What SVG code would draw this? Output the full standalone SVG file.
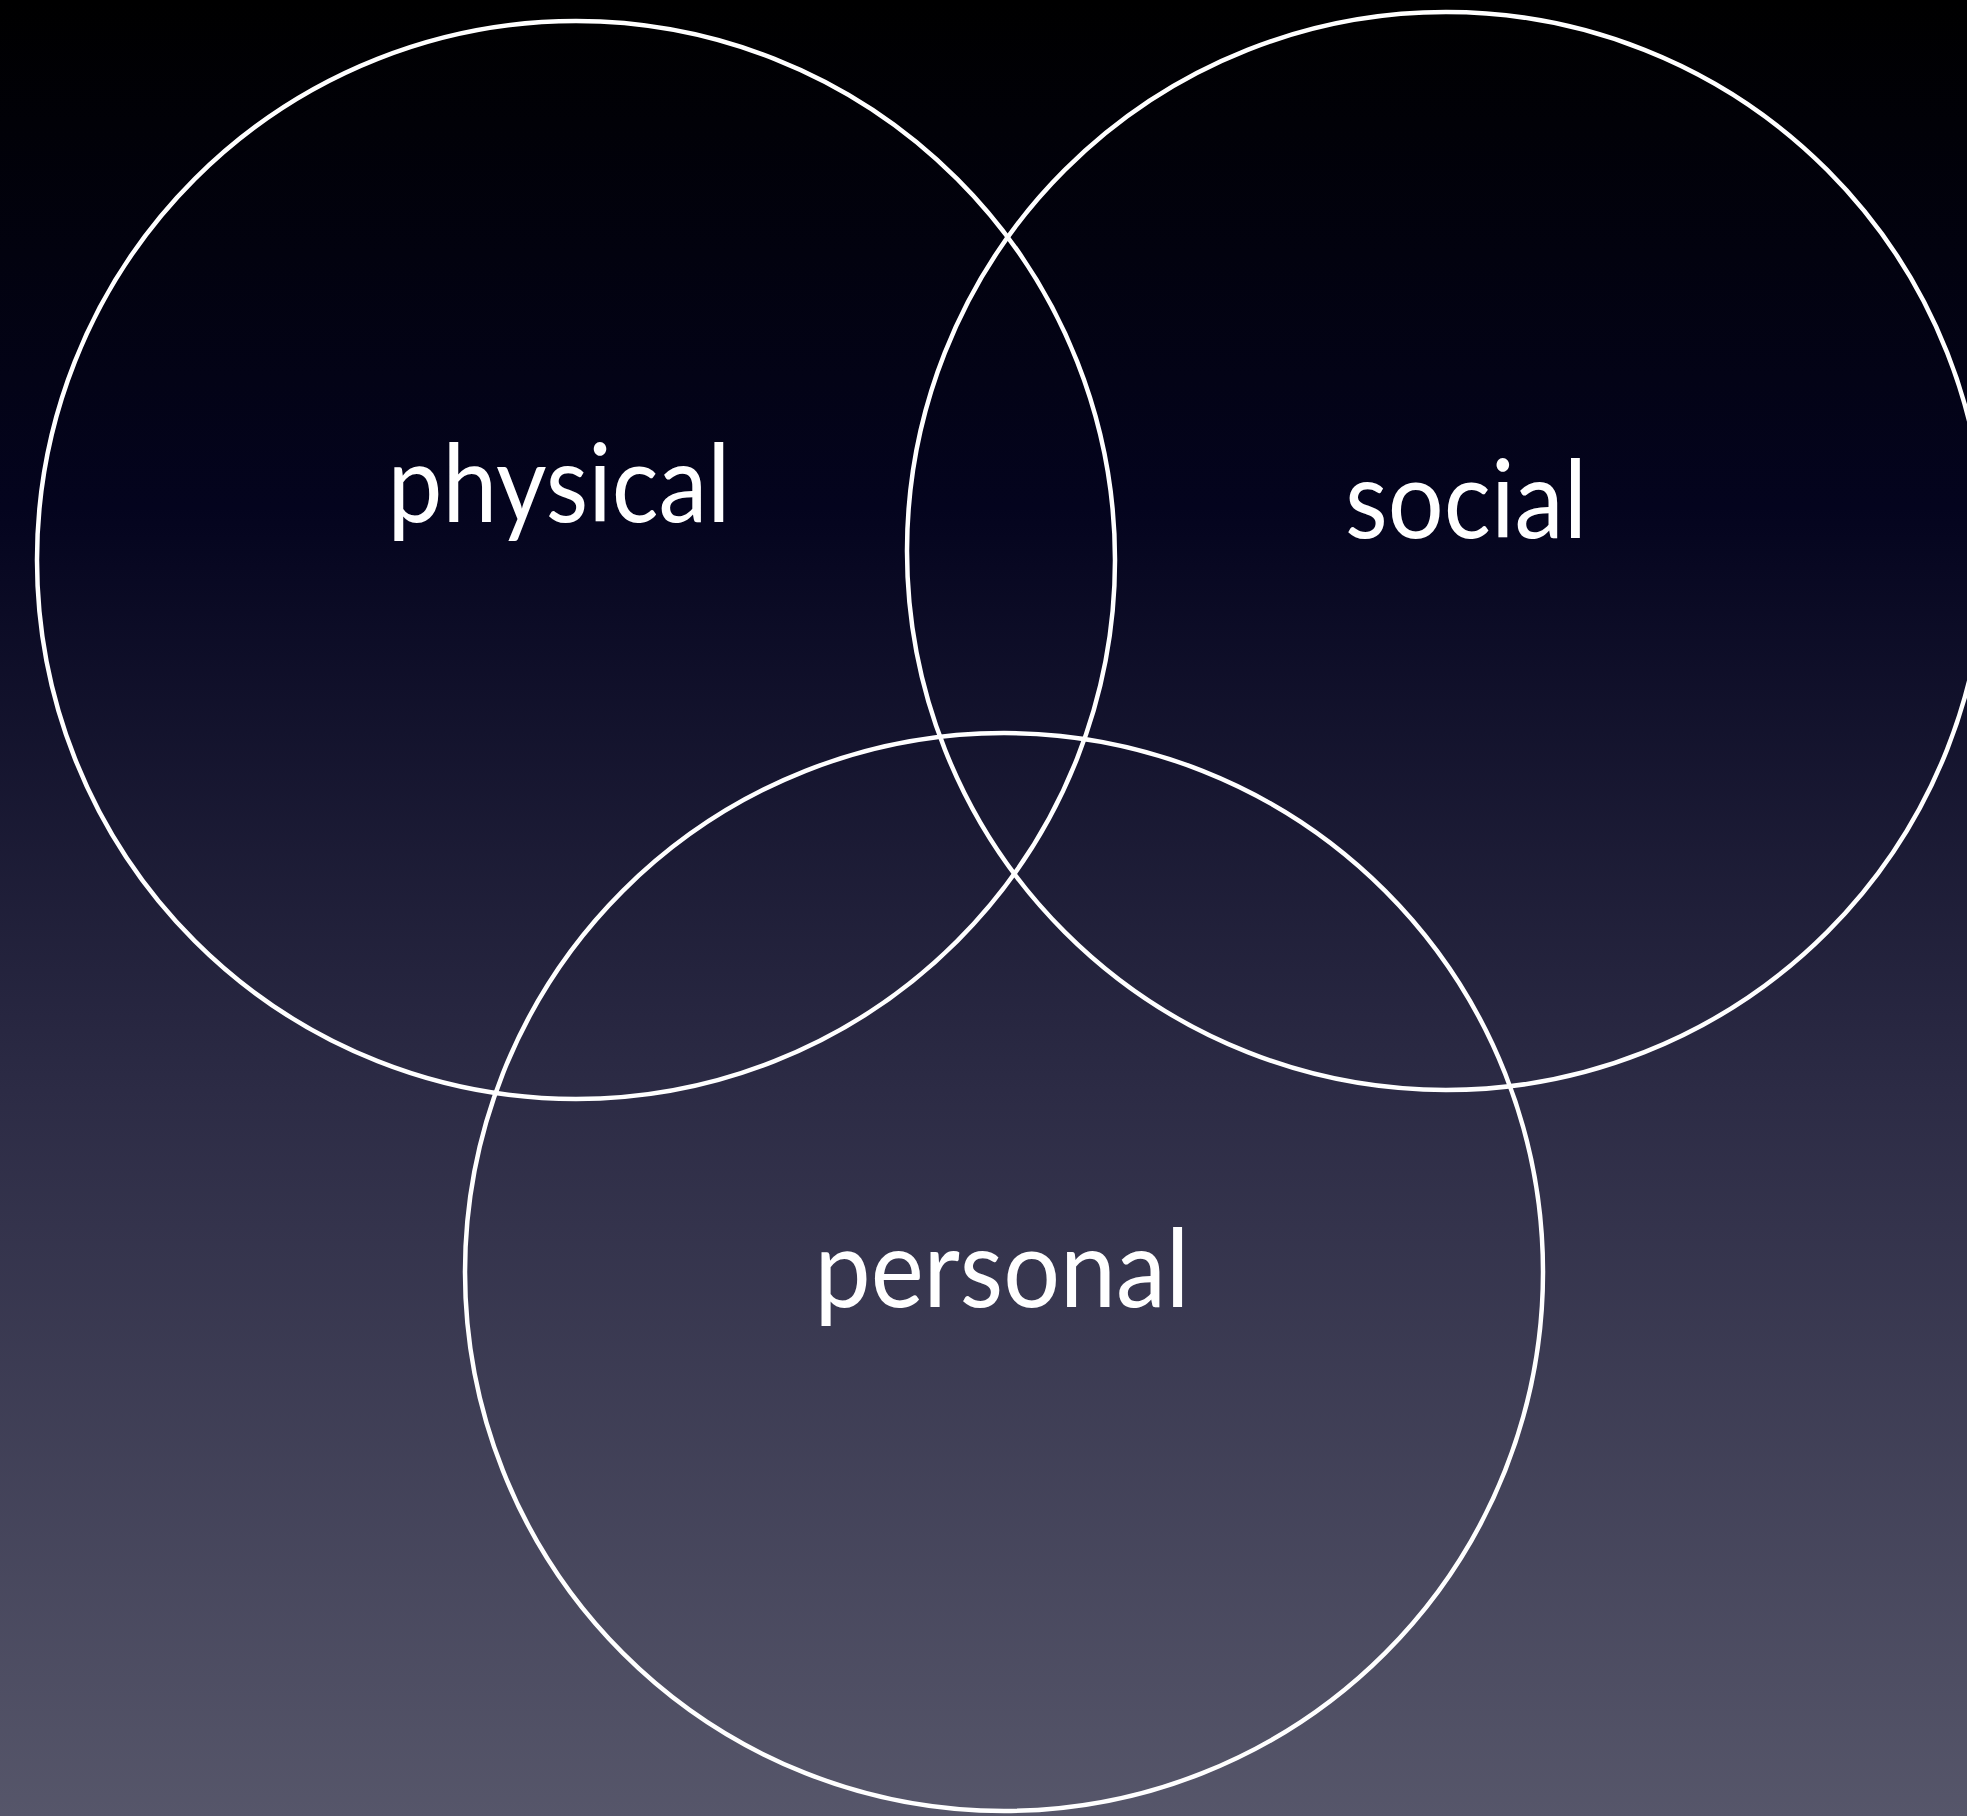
<svg xmlns="http://www.w3.org/2000/svg" width="1967" height="1816" viewBox="0 0 1967 1816">
  <defs>
    <linearGradient id="bg" x1="0" y1="0" x2="0" y2="1">
      <stop offset="0" stop-color="#000000"/>
      <stop offset="0.28" stop-color="#04041e"/>
      <stop offset="0.6" stop-color="#2c2b45"/>
      <stop offset="1" stop-color="#56566a"/>
    </linearGradient>
    <style>
      .ring { fill: none; stroke: #ffffff; stroke-width: 4.5; }
      .label { fill: #ffffff; font-family: "Lato", "Open Sans", "Liberation Sans", sans-serif; font-size: 108px; text-anchor: middle; }
    </style>
  </defs>
  <rect x="0" y="0" width="1967" height="1816" fill="url(#bg)"/>
  <g id="node-physical">
    <circle class="ring" cx="576" cy="560" r="539"/>
    <text class="label" x="559" y="522" textLength="343" lengthAdjust="spacingAndGlyphs">physical</text>
  </g>
  <g id="node-social">
    <circle class="ring" cx="1446" cy="551" r="539"/>
    <text class="label" x="1466" y="538" textLength="242" lengthAdjust="spacingAndGlyphs">social</text>
  </g>
  <g id="node-personal">
    <circle class="ring" cx="1004" cy="1272" r="539"/>
    <text class="label" x="1002" y="1307" textLength="375" lengthAdjust="spacingAndGlyphs">personal</text>
  </g>
  <g id="connectors"/>
</svg>
